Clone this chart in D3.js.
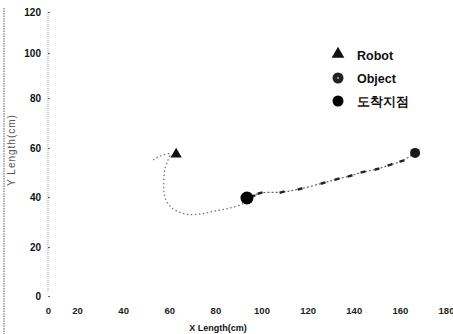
<!DOCTYPE html>
<html>
<head>
<meta charset="utf-8">
<script src="https://cdn.jsdelivr.net/npm/d3@7"></script>
<style>
  body { margin: 0; background: #fff; }
  svg { display: block; font-family: "Liberation Sans", Arial, sans-serif; }
</style>
</head>
<body>
<div id="container"></div>
<script>
// tick labels
const xTicks = [0, 20, 40, 60, 80, 100, 120, 140, 160, 180];
const yTicks = [0, 20, 40, 60, 80, 100, 120];

// robot trajectory (cm)
const robotPath = [
  [53, 55.1], [56, 56.7], [60.3, 57.6], [59.5, 55.1], [58.2, 51.8],
  [57.7, 46.9], [57.7, 42], [58.6, 38.8], [61.2, 35.6], [66.8, 33.2],
  [73.3, 33.2], [79.8, 34.4], [86.3, 35.6], [91.6, 37.2], [93.7, 39.6]
];
// object trajectory (cm)
const objectPath = [
  [166.6, 58], [160.9, 54.7], [155.7, 53.1], [150.1, 51.4], [144, 50.2],
  [138.4, 48.6], [132.7, 47.3], [126.7, 45.7], [116.7, 43.3], [108.9, 42],
  [99.4, 41.6], [96.3, 40.4]
];
const robot = [63, 57];
const object = [166.6, 58];
const arrival = [93.7, 39.6];

const legendNames = ["Robot", "Object", "도착지점"];

const width = 453, height = 334;

const svg = d3.select("#container").append("svg")
  .attr("width", width).attr("height", height);

// scanned axes are slightly uneven, so piecewise scales follow the printed ticks
const x = d3.scaleLinear().domain([0, 20, 180]).range([48, 77, 446]);
const y = d3.scaleLinear()
  .domain([0, 20, 40, 60, 80, 100, 120])
  .range([296, 247, 197, 148, 98, 53, 12]);

// left frame border
svg.append("line")
  .attr("x1", 4).attr("x2", 4).attr("y1", 8).attr("y2", height)
  .attr("stroke", "#777").attr("stroke-width", 1.2)
  .attr("stroke-dasharray", "1.5,1");

// y axis
const yAxis = svg.append("g")
  .attr("transform", `translate(${x(0)},0)`)
  .call(d3.axisLeft(y).tickValues(yTicks).tickSize(0).tickPadding(7));
yAxis.select(".domain")
  .attr("stroke", "#999").attr("stroke-dasharray", "1,1")
  .attr("d", `M0,${y(120)}V${y(0) - 4}`);
yAxis.selectAll("text")
  .attr("font-size", 10).attr("font-weight", "bold").attr("fill", "#111");
yAxis.selectAll(".tick").append("line")
  .attr("x1", 0).attr("x2", 2).attr("stroke", "#666");

// x axis (labels only)
const xAxis = svg.append("g")
  .attr("transform", `translate(0,${y(0) + 6})`)
  .call(d3.axisBottom(x).tickValues(xTicks).tickSize(0).tickPadding(5));
xAxis.select(".domain").remove();
xAxis.selectAll("text")
  .attr("font-size", 9.5).attr("font-weight", "bold").attr("fill", "#222");

svg.append("text")
  .attr("x", 218).attr("y", 331)
  .attr("text-anchor", "middle")
  .attr("font-size", 9).attr("font-weight", "bold").attr("fill", "#111")
  .text("X Length(cm)");

svg.append("text")
  .attr("transform", `translate(15,150) rotate(-90)`)
  .attr("text-anchor", "middle")
  .attr("font-size", 10).attr("letter-spacing", 1).attr("fill", "#555")
  .text("Y Length(cm)");

const line = d3.line().x(d => x(d[0])).y(d => y(d[1])).curve(d3.curveCatmullRom);

// robot path: light dotted
svg.append("path")
  .datum(robotPath)
  .attr("d", line)
  .attr("fill", "none")
  .attr("stroke", "#777").attr("stroke-width", 1.3)
  .attr("stroke-dasharray", "1.5,2.5");

// object path: dotted with small dashes
svg.append("path")
  .datum(objectPath)
  .attr("d", line)
  .attr("fill", "none")
  .attr("stroke", "#666").attr("stroke-width", 1.2)
  .attr("stroke-dasharray", "2,2");

svg.selectAll(".omark")
  .data(objectPath.slice(1))
  .enter().append("rect")
  .attr("class", "omark")
  .attr("x", -2.5).attr("y", -1.2)
  .attr("width", 5).attr("height", 2.4)
  .attr("fill", "#222")
  .attr("transform", d => `translate(${x(d[0])},${y(d[1])}) rotate(-16)`);

// markers
const tri = d3.symbol().type(d3.symbolTriangle).size(55);
svg.append("path")
  .attr("d", tri)
  .attr("transform", `translate(${x(robot[0])},${y(robot[1]) - 1})`)
  .attr("fill", "#111");

svg.append("circle")
  .attr("cx", x(object[0])).attr("cy", y(object[1])).attr("r", 5)
  .attr("fill", "#1a1a1a");

svg.append("circle")
  .attr("cx", x(arrival[0])).attr("cy", y(arrival[1])).attr("r", 6.5)
  .attr("fill", "#000");

// legend
const legend = svg.append("g").attr("transform", "translate(338,55)");
legendNames.forEach((name, i) => {
  const g = legend.append("g").attr("transform", `translate(0,${i * 23})`);
  if (i === 0) {
    g.append("path").attr("d", d3.symbol().type(d3.symbolTriangle).size(70))
      .attr("transform", "translate(0,-1)").attr("fill", "#111");
  } else if (i === 1) {
    g.append("circle").attr("r", 5.5).attr("fill", "#222");
    g.append("circle").attr("r", 1.2).attr("fill", "#888");
  } else {
    g.append("circle").attr("r", 5.5).attr("fill", "#000");
  }
  g.append("text")
    .attr("x", 19).attr("y", 4.5)
    .attr("font-size", 12.5).attr("font-weight", "bold").attr("fill", "#111")
    .text(name);
});
</script>
</body>
</html>
